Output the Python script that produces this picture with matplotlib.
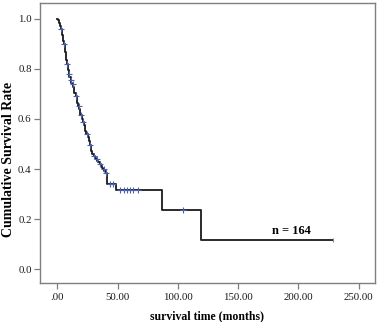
import matplotlib
matplotlib.use("Agg")
import matplotlib.pyplot as plt
import numpy as np

# Step points of the survival curve (time in months, cumulative survival)
step_times = [0, 0.5, 1, 1.5, 2, 3, 3.5, 4, 4.5, 5, 5.5, 6, 6.5, 7, 7.5, 8, 8.5, 9, 9.5, 10,
              11, 11.5, 12, 13, 13.5, 14, 15, 16, 16.5, 17, 18, 18.5, 19, 20, 21, 22, 22.5,
              23, 24, 25, 26, 27, 27.5, 28, 29, 30, 31, 32, 33, 34, 35, 36, 37, 38, 39, 40,
              41, 41.5, 49, 87, 119]
step_surv = [1.0, 0.994, 0.988, 0.982, 0.970, 0.958, 0.946, 0.933, 0.921, 0.909, 0.897, 0.878,
             0.866, 0.848, 0.836, 0.817, 0.805, 0.793, 0.781, 0.769, 0.757, 0.744, 0.738, 0.726,
             0.714, 0.702, 0.690, 0.677, 0.665, 0.653, 0.641, 0.629, 0.617, 0.598, 0.586, 0.574,
             0.562, 0.550, 0.538, 0.526, 0.514, 0.496, 0.483, 0.471, 0.459, 0.452, 0.446, 0.440,
             0.433, 0.427, 0.420, 0.413, 0.406, 0.399, 0.391, 0.383, 0.362, 0.342, 0.315, 0.236,
             0.118]
end_time = 229

# Censored observations (months)
censor_times = [3.2, 5.7, 8.2, 9.7, 11.2, 12.6, 15.3, 17.6, 19.6, 21.6, 24.5, 27.2, 30.5,
                32.5, 35.5, 38.5, 40.5, 44, 46.5, 52, 55, 58, 60.5, 63, 67, 104]

x_ticks = [0, 50, 100, 150, 200, 250]
x_ticklabels = [".00", "50.00", "100.00", "150.00", "200.00", "250.00"]
y_ticks = [0.0, 0.2, 0.4, 0.6, 0.8, 1.0]
y_ticklabels = ["0.0", "0.2", "0.4", "0.6", "0.8", "1.0"]

annot_text = "n = 164"
xlabel = "survival time (months)"
ylabel = "Cumulative Survival Rate"

plt.rcParams['font.family'] = ['Liberation Serif', 'DejaVu Serif']

fig = plt.figure(figsize=(3.79, 3.22), dpi=100)
ax = fig.add_axes([0.1055, 0.121, 0.8835, 0.8697])

xs = list(step_times) + [end_time]
ys = list(step_surv) + [step_surv[-1]]
ax.step(xs, ys, where='post', color='#1a1a1a', lw=1.3, zorder=3)

st = np.array(step_times)
sv = np.array(step_surv)
cens_y = [sv[np.searchsorted(st, c, side='right') - 1] for c in censor_times]
ax.plot(censor_times, cens_y, linestyle='none', marker='+', markersize=4,
        markeredgewidth=0.8, color='#4a62b0', zorder=4)
ax.plot([end_time], [step_surv[-1]], linestyle='none', marker='|', markersize=3,
        markeredgewidth=0.8, color='#888888', zorder=4)

ax.set_xlim(-14.5, 263.5)
ax.set_ylim(-0.054, 1.062)
ax.set_xticks(x_ticks)
ax.set_xticklabels(x_ticklabels)
ax.set_yticks(y_ticks)
ax.set_yticklabels(y_ticklabels)

for s in ax.spines.values():
    s.set_color('#7f7f7f')
    s.set_linewidth(1.0)
ax.tick_params(axis='both', direction='out', length=4, width=0.9, color='#7f7f7f',
               labelsize=7.8, labelcolor='#1a1a1a', pad=2)
ax.tick_params(axis='x', pad=3)

ax.set_xlabel(xlabel, fontsize=8.5, fontweight='bold', labelpad=6)
ax.set_ylabel(ylabel, fontsize=10, fontweight='bold', va='center')
ax.yaxis.set_label_coords(-0.093, 0.443)

ax.text(194, 0.153, annot_text, fontsize=9, fontweight='bold', ha='center', va='center')

fig.savefig('out.png', dpi=100)
